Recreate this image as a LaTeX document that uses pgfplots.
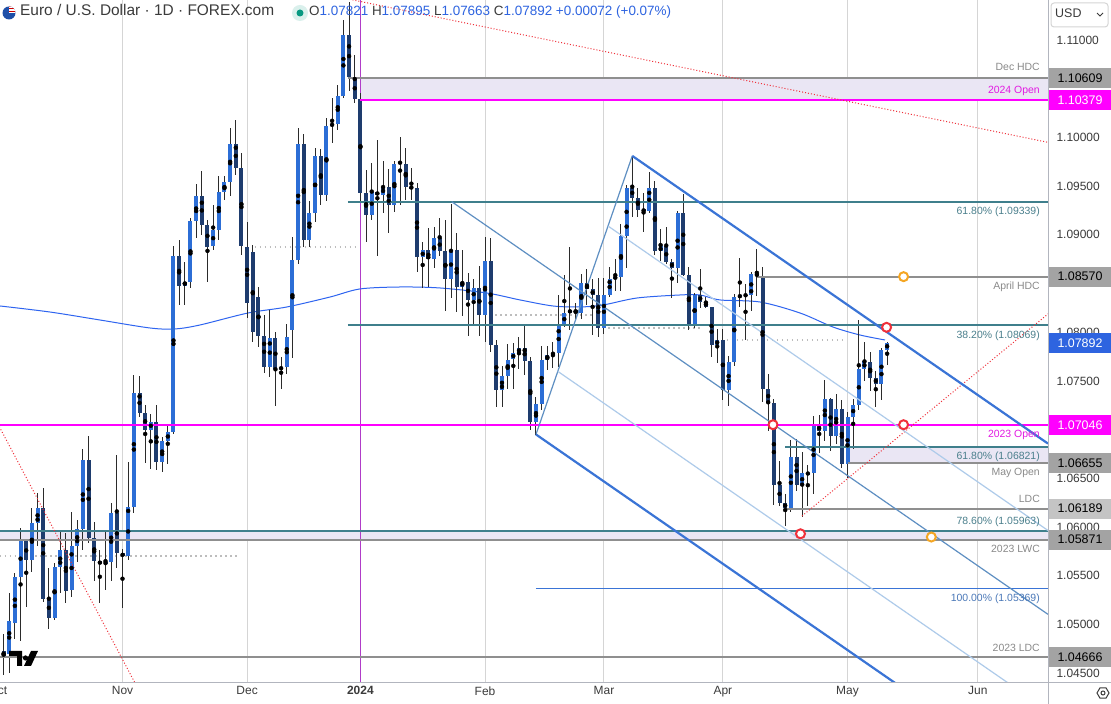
\documentclass[border=0pt]{standalone}
\usepackage{fontspec}
\setmainfont{Liberation Sans}
\usepackage{pgfplots}
\usepackage{pgfplotstable}
\pgfplotsset{compat=1.18}

\definecolor{bull}{HTML}{2C6ED6}
\definecolor{bear}{HTML}{1E3C6E}
\definecolor{wick}{HTML}{2B2B2B}
\definecolor{fibteal}{HTML}{3F7F8C}
\definecolor{lvlgray}{HTML}{8F8F8F}
\definecolor{lvlmag}{HTML}{FF00FF}
\definecolor{vmag}{HTML}{B03CC8}
\definecolor{lav}{HTML}{EAE6F4}
\definecolor{chblue}{HTML}{3A74D6}
\definecolor{pfsteel}{HTML}{5E8FC2}
\definecolor{pflight}{HTML}{AECBEA}
\definecolor{smablue}{HTML}{2E64F0}
\definecolor{redmk}{HTML}{F0303A}
\definecolor{orgmk}{HTML}{F5A623}
\definecolor{dotgray}{HTML}{BDBDBD}
\definecolor{gridc}{HTML}{D5D5D5}
\definecolor{axc}{HTML}{B2B5BE}
\definecolor{txtc}{HTML}{3B3B3B}
\definecolor{lblgray}{HTML}{8A8A8A}
\definecolor{lblmag}{HTML}{E21AE2}
\definecolor{lblteal}{HTML}{4A7F8C}
\definecolor{lblblue}{HTML}{4A78B8}
\definecolor{valblue}{HTML}{2E64E0}
\definecolor{boxgray}{HTML}{A3A3A3}
\definecolor{boxlight}{HTML}{C4C4C4}
\definecolor{tvgreen}{HTML}{089981}
\definecolor{flagblue}{HTML}{1F4FA8}

\pgfplotstableread{
k O H L C
-21 1.0473 1.0490 1.0448 1.0467
-20 1.0470 1.0532 1.0450 1.0503
-19 1.0502 1.0553 1.0485 1.0549
-18 1.0549 1.0599 1.0483 1.0586
-17 1.0586 1.0588 1.0518 1.0566
-16 1.0566 1.0620 1.0554 1.0604
-15 1.0604 1.0635 1.0580 1.0620
-14 1.0620 1.0640 1.0523 1.0526
-13 1.0527 1.0558 1.0495 1.0507
-12 1.0507 1.0563 1.0505 1.0559
-11 1.0559 1.0595 1.0532 1.0576
-10 1.0576 1.0594 1.0522 1.0534
-9 1.0535 1.0616 1.0528 1.0581
-8 1.0581 1.0607 1.0564 1.0598
-7 1.0598 1.0680 1.0576 1.0669
-6 1.0669 1.0694 1.0584 1.0589
-5 1.0589 1.0605 1.0545 1.0565
-4 1.0565 1.0576 1.0522 1.0562
-3 1.0562 1.0595 1.0535 1.0564
-2 1.0564 1.0625 1.0545 1.0614
-1 1.0614 1.0674 1.0558 1.0573
0 1.0573 1.0577 1.0517 1.0570
1 1.0570 1.0667 1.0566 1.0621
2 1.0621 1.0756 1.0614 1.0738
3 1.0738 1.0755 1.0713 1.0717
4 1.0717 1.0725 1.0666 1.0700
5 1.0700 1.0716 1.0660 1.0708
6 1.0708 1.0725 1.0659 1.0667
7 1.0667 1.0693 1.0657 1.0688
8 1.0688 1.0706 1.0665 1.0698
9 1.0698 1.0888 1.0695 1.0878
10 1.0878 1.0895 1.0828 1.0848
11 1.0848 1.0872 1.0828 1.0852
12 1.0852 1.0917 1.0845 1.0914
13 1.0914 1.0952 1.0897 1.0940
14 1.0940 1.0966 1.0900 1.0910
15 1.0910 1.0915 1.0852 1.0888
16 1.0888 1.0931 1.0884 1.0905
17 1.0905 1.0960 1.0895 1.0944
18 1.0944 1.0960 1.0936 1.0954
19 1.0954 1.1010 1.0940 1.0993
20 1.0993 1.1018 1.0961 1.0969
21 1.0969 1.0984 1.0879 1.0888
22 1.0888 1.0913 1.0815 1.0830
23 1.0882 1.0890 1.0790 1.0800
24 1.0836 1.0846 1.0785 1.0796
25 1.0796 1.0818 1.0758 1.0764
26 1.0764 1.0823 1.0754 1.0794
27 1.0794 1.0800 1.0724 1.0762
28 1.0762 1.0775 1.0742 1.0764
29 1.0764 1.0808 1.0757 1.0795
30 1.0802 1.0898 1.0774 1.0874
31 1.0874 1.1010 1.0870 1.0993
32 1.0993 1.1004 1.0888 1.0895
33 1.0895 1.0935 1.0888 1.0922
34 1.0922 1.0989 1.0913 1.0981
35 1.0981 1.0988 1.0931 1.0941
36 1.0941 1.1020 1.0935 1.1012
37 1.1012 1.1040 1.0994 1.1014
38 1.1014 1.1054 1.1008 1.1043
39 1.1043 1.1121 1.1040 1.1105
40 1.1105 1.1139 1.1048 1.1062
41 1.1062 1.1085 1.1035 1.1039
42 1.1039 1.1046 1.0934 1.0943
43 1.0943 1.0967 1.0893 1.0920
44 1.0920 1.0974 1.0915 1.0944
45 1.0944 1.0997 1.0878 1.0941
46 1.0941 1.0976 1.0922 1.0949
47 1.0949 1.0968 1.0902 1.0931
48 1.0931 1.0976 1.0924 1.0973
49 1.0973 1.1001 1.0931 1.0975
50 1.0973 1.0989 1.0936 1.0949
51 1.0949 1.0969 1.0936 1.0948
52 1.0948 1.0953 1.0862 1.0877
53 1.0877 1.0893 1.0845 1.0884
54 1.0884 1.0907 1.0847 1.0875
55 1.0875 1.0908 1.0866 1.0897
56 1.0897 1.0917 1.0878 1.0883
57 1.0883 1.0915 1.0822 1.0855
58 1.0855 1.0932 1.0835 1.0884
59 1.0884 1.0902 1.0821 1.0846
60 1.0846 1.0884 1.0817 1.0852
61 1.0852 1.0861 1.0796 1.0833
62 1.0833 1.0855 1.0807 1.0845
63 1.0845 1.0868 1.0796 1.0818
64 1.0818 1.0898 1.0790 1.0873
65 1.0873 1.0897 1.0780 1.0787
66 1.0787 1.0792 1.0723 1.0741
67 1.0741 1.0765 1.0723 1.0755
68 1.0755 1.0788 1.0742 1.0772
69 1.0772 1.0789 1.0742 1.0779
70 1.0779 1.0795 1.0762 1.0784
71 1.0784 1.0807 1.0756 1.0771
72 1.0771 1.0775 1.0700 1.0708
73 1.0708 1.0734 1.0695 1.0726
74 1.0726 1.0786 1.0720 1.0772
75 1.0772 1.0786 1.0761 1.0777
76 1.0777 1.0790 1.0763 1.0779
77 1.0779 1.0838 1.0764 1.0807
78 1.0807 1.0859 1.0805 1.0820
79 1.0820 1.0888 1.0802 1.0823
80 1.0823 1.0830 1.0812 1.0820
81 1.0820 1.0860 1.0814 1.0851
82 1.0851 1.0865 1.0828 1.0844
83 1.0844 1.0855 1.0797 1.0838
84 1.0838 1.0856 1.0795 1.0804
85 1.0804 1.0856 1.0798 1.0838
86 1.0838 1.0867 1.0836 1.0855
87 1.0855 1.0875 1.0842 1.0857
88 1.0857 1.0911 1.0842 1.0899
89 1.0899 1.0951 1.0866 1.0948
90 1.0948 1.0981 1.0918 1.0938
91 1.0938 1.0948 1.0918 1.0926
92 1.0926 1.0943 1.0903 1.0924
93 1.0924 1.0964 1.0922 1.0948
94 1.0948 1.0955 1.0879 1.0883
95 1.0883 1.0906 1.0873 1.0888
96 1.0888 1.0908 1.0870 1.0872
97 1.0872 1.0875 1.0835 1.0866
98 1.0866 1.0924 1.0850 1.0922
99 1.0922 1.0942 1.0858 1.0859
100 1.0859 1.0867 1.0802 1.0807
101 1.0807 1.0840 1.0804 1.0838
102 1.0838 1.0865 1.0825 1.0831
103 1.0831 1.0836 1.0825 1.0826
104 1.0826 1.0826 1.0775 1.0787
105 1.0787 1.0803 1.0768 1.0792
106 1.0792 1.0803 1.0730 1.0741
107 1.0741 1.0776 1.0724 1.0769
108 1.0769 1.0839 1.0765 1.0836
109 1.0836 1.0876 1.0826 1.0838
110 1.0838 1.0850 1.0792 1.0838
111 1.0838 1.0862 1.0822 1.0860
112 1.0860 1.0885 1.0837 1.0858
113 1.0858 1.0867 1.0728 1.0742
114 1.0742 1.0757 1.0699 1.0727
115 1.0727 1.0731 1.0623 1.0643
116 1.0643 1.0668 1.0622 1.0625
117 1.0625 1.0634 1.0601 1.0619
118 1.0619 1.0689 1.0615 1.0672
119 1.0672 1.0690 1.0637 1.0643
120 1.0643 1.0677 1.0610 1.0655
121 1.0655 1.0664 1.0622 1.0655
122 1.0655 1.0714 1.0634 1.0704
123 1.0704 1.0715 1.0676 1.0699
124 1.0699 1.0751 1.0688 1.0731
125 1.0731 1.0732 1.0678 1.0694
126 1.0694 1.0737 1.0685 1.0721
127 1.0721 1.0730 1.0661 1.0665
128 1.0665 1.0718 1.0650 1.0713
129 1.0713 1.0732 1.0680 1.0725
130 1.0725 1.0812 1.0720 1.0762
131 1.0762 1.0790 1.0750 1.0770
132 1.0770 1.0780 1.0740 1.0753
133 1.0753 1.0760 1.0723 1.0747
134 1.0747 1.0784 1.0730 1.0782
135 1.07821 1.07895 1.07663 1.07892
}\ohlc

\begin{document}
\begin{tikzpicture}[x=1bp,y=1bp]
\path[use as bounding box] (0,-21) rectangle (1111,683);
\fill[white] (0,-21) rectangle (1111,683);
\begin{axis}[
  at={(0,0)}, anchor=south west,
  width=1048bp, height=683bp, scale only axis,
  xmin=-21.63, xmax=163.4, ymin=1.043983, ymax=1.114107,
  axis x line*=bottom, axis y line*=right,
  axis line style={draw=none},
  xtick={0,22,42,64,85,106,128,151},
  xticklabels={Nov,Dec,\textbf{2024},Feb,Mar,Apr,May,Jun},
  ytick={1.045,1.050,1.055,1.060,1.065,1.075,1.080,1.090,1.095,1.100,1.110},
  yticklabel style={/pgf/number format/fixed, /pgf/number format/fixed zerofill, /pgf/number format/precision=5, /pgf/number format/assume math mode=true},
  yticklabel style={font=\fontsize{12}{14}\selectfont, text=txtc, anchor=west, xshift=5bp},
  xticklabel style={font=\fontsize{12}{14}\selectfont, text=txtc},
  major tick length=0pt,
  xmajorgrids,
  major grid style={draw=gridc, line width=1bp},
  clip=true,
]
% zones
\addplot[fill=lav, draw=none, forget plot] coordinates {(42,1.10379) (163.4,1.10379) (163.4,1.10609) (42,1.10609)} -- cycle;
\addplot[fill=lav, draw=none, forget plot] coordinates {(128,1.06655) (163.4,1.06655) (163.4,1.06821) (128,1.06821)} -- cycle;
\addplot[fill=lav, draw=none, forget plot] coordinates {(-21.63,1.05871) (163.4,1.05871) (163.4,1.05963) (-21.63,1.05963)} -- cycle;
% vertical 2024 line
\addplot[vmag, line width=1.2bp, forget plot] coordinates {(42,1.043983) (42,1.114107)};
% prior monthly closes (dotted)
\addplot[dotgray, line width=1.5bp, dash pattern=on 1.5bp off 3.5bp, forget plot] coordinates {(-21.63,1.05702) (20.74,1.05702)};
\addplot[dotgray, line width=1.5bp, dash pattern=on 1.5bp off 3.5bp, forget plot] coordinates {(23.39,1.08875) (41.05,1.08875)};
\addplot[dotgray, line width=1.5bp, dash pattern=on 1.5bp off 3.5bp, forget plot] coordinates {(65.77,1.08177) (83.07,1.08177)};
\addplot[dotgray, line width=1.5bp, dash pattern=on 1.5bp off 3.5bp, forget plot] coordinates {(85.72,1.08043) (101.96,1.08043)};
\addplot[dotgray, line width=1.5bp, dash pattern=on 1.5bp off 3.5bp, forget plot] coordinates {(106.72,1.07920) (127.2,1.07920)};
% 200 SMA
\addplot[smablue, line width=1bp, smooth, tension=0.5, forget plot] coordinates {
(-21.63,1.08269) (-12.80,1.08207) (-3.97,1.08125) (4.86,1.08043) (9.27,1.08033) (13.68,1.08074) (22.16,1.08197) (29.04,1.08259) (36.63,1.08361) (41.93,1.08444) (48.99,1.08464) (56.05,1.08454) (64.35,1.08402) (70.18,1.08331) (76.0,1.08269) (80.77,1.08259) (84.83,1.08279) (90.84,1.08351) (98.43,1.08382) (101.96,1.08382) (105.49,1.08331) (112.55,1.08310) (119.62,1.08197) (125.44,1.08053) (130.21,1.07971) (134.62,1.07920)};
% candles: wicks
\addplot[only marks, mark=none, forget plot, error bars/.cd, y dir=both, y explicit, error mark=none, error bar style={draw=wick, line width=1bp}]
  table[x=k, y expr={(\thisrow{H}+\thisrow{L})/2}, y error expr={(\thisrow{H}-\thisrow{L})/2}] {\ohlc};
% bull bodies
\addplot[only marks, mark=none, forget plot, restrict expr to domain={\thisrow{C}-\thisrow{O}}{0:1}, error bars/.cd, y dir=both, y explicit, error mark=none, error bar style={draw=bull, line width=4bp}]
  table[x=k, y expr={(\thisrow{O}+\thisrow{C})/2}, y error expr={max(abs(\thisrow{C}-\thisrow{O})/2,0.00005)}] {\ohlc};
% bear bodies
\addplot[only marks, mark=none, forget plot, restrict expr to domain={\thisrow{C}-\thisrow{O}}{-1:-0.000001}, error bars/.cd, y dir=both, y explicit, error mark=none, error bar style={draw=bear, line width=4bp}]
  table[x=k, y expr={(\thisrow{O}+\thisrow{C})/2}, y error expr={max(abs(\thisrow{C}-\thisrow{O})/2,0.00005)}] {\ohlc};
% horizontal levels
\addplot[lvlgray, line width=2bp, forget plot] coordinates {(39.81,1.10609) (163.4,1.10609)};
\addplot[lvlmag, line width=2bp, forget plot] coordinates {(42,1.10379) (163.4,1.10379)};
\addplot[fibteal, line width=2bp, forget plot] coordinates {(39.81,1.09339) (163.4,1.09339)};
\addplot[lvlgray, line width=2bp, forget plot] coordinates {(112,1.08570) (163.4,1.08570)};
\addplot[fibteal, line width=2bp, forget plot] coordinates {(39.81,1.08069) (163.4,1.08069)};
\addplot[lvlmag, line width=2bp, forget plot] coordinates {(-21.63,1.07046) (163.4,1.07046)};
\addplot[fibteal, line width=2bp, forget plot] coordinates {(117,1.06821) (163.4,1.06821)};
\addplot[lvlgray, line width=2bp, forget plot] coordinates {(128,1.06655) (163.4,1.06655)};
\addplot[lvlgray, line width=2bp, forget plot] coordinates {(117,1.06189) (163.4,1.06189)};
\addplot[fibteal, line width=2bp, forget plot] coordinates {(-21.63,1.05963) (163.4,1.05963)};
\addplot[lvlgray, line width=2bp, forget plot] coordinates {(-21.63,1.05871) (163.4,1.05871)};
\addplot[chblue, line width=1.5bp, forget plot] coordinates {(73,1.05369) (163.4,1.05369)};
\addplot[lvlgray, line width=2bp, forget plot] coordinates {(-21.63,1.04666) (163.4,1.04666)};
% red dotted trendlines
\addplot[redmk, line width=1bp, dash pattern=on 1bp off 2bp, forget plot] coordinates {(38,1.11443) (163.4,1.09949)};
\addplot[redmk, line width=1bp, dash pattern=on 1bp off 2bp, forget plot] coordinates {(-22,1.07057) (3,1.04311)};
\addplot[redmk, line width=1bp, dash pattern=on 1bp off 2bp, forget plot] coordinates {(119.97,1.06113) (163.4,1.08187)};
% pitchfork / channel
\addplot[pfsteel, line width=1.2bp, forget plot] coordinates {(73,1.0695) (90,1.0981)};
\addplot[pfsteel, line width=1.2bp, forget plot] coordinates {(58.12,1.09340) (163.4,1.05103)};
\addplot[pflight, line width=1.2bp, forget plot] coordinates {(85.72,1.0909) (163.4,1.05964)};
\addplot[pflight, line width=1.2bp, forget plot] coordinates {(76.85,1.07598) (163.4,1.04115)};
\addplot[chblue, line width=2.2bp, forget plot] coordinates {(90,1.0981) (163.4,1.06856)};
\addplot[chblue, line width=2.2bp, forget plot] coordinates {(73,1.0695) (163.4,1.03312)};
% markers
\addplot[only marks, mark=*, mark size=4.5bp, mark options={draw=redmk, fill=white, line width=2bp}, forget plot] coordinates {(114.85,1.0705) (134.9,1.0805) (137.9,1.0705) (119.7,1.0593)};
\addplot[only marks, mark=*, mark size=4.5bp, mark options={draw=orgmk, fill=white, line width=2bp}, forget plot] coordinates {(137.9,1.0857) (142.8,1.05897)};
\end{axis}

% separators
\draw[axc, line width=1bp] (1048,-21) -- (1048,683);
\draw[axc, line width=1bp] (0,0) -- (1111,0);
% Oct partial label (cut by the left edge as in the original)
\node[anchor=north, font=\fontsize{12}{14}\selectfont, text=txtc] at (-2.1,0) {Oct};

% right-hand level labels
\begin{scope}[every node/.style={anchor=mid east, font=\fontsize{10.5}{12}\selectfont, inner sep=0pt}]
\node[text=lblgray] at (1040,615) {Dec HDC};
\node[text=lblmag] at (1040,592) {2024 Open};
\node[text=lblteal] at (1040,471.5) {61.80\% (1.09339)};
\node[text=lblgray] at (1040,396.5) {April HDC};
\node[text=lblteal] at (1040,347.5) {38.20\% (1.08069)};
\node[text=lblmag] at (1040,248) {2023 Open};
\node[text=lblteal] at (1040,226.5) {61.80\% (1.06821)};
\node[text=lblgray] at (1040,209.7) {May Open};
\node[text=lblgray] at (1040,183) {LDC};
\node[text=lblteal] at (1040,161.3) {78.60\% (1.05963)};
\node[text=lblgray] at (1040,133) {2023 LWC};
\node[text=lblblue] at (1040,83.7) {100.00\% (1.05369)};
\node[text=lblgray] at (1040,33.7) {2023 LDC};
\end{scope}

% price boxes
\begin{scope}[every node/.style={minimum width=62bp, minimum height=20bp, inner sep=0pt, font=\fontsize{12.5}{14}\selectfont}]
\node[fill=boxgray, text=black] at (1080,604.9) {1.10609};
\node[fill=lvlmag, text=white] at (1080,582.5) {1.10379};
\node[fill=boxgray, text=black] at (1080,406.3) {1.08570};
\node[fill=valblue, text=white] at (1080,340.2) {1.07892};
\node[fill=lvlmag, text=white] at (1080,257.9) {1.07046};
\node[fill=boxgray, text=black] at (1080,219.8) {1.06655};
\node[fill=boxlight, text=black] at (1080,174.4) {1.06189};
\node[fill=boxgray, text=black] at (1080,143.4) {1.05871};
\node[fill=boxgray, text=black] at (1080,26.0) {1.04666};
\end{scope}

% USD box
\fill[white] (1050,655) rectangle (1110,682);
\draw[draw=gridc, rounded corners=3bp, line width=1bp] (1051,656) rectangle (1108,680);
\node[anchor=mid west, font=\fontsize{12.5}{14}\selectfont, text=txtc, inner sep=0pt] at (1055,668) {USD};
\draw[txtc, line width=0.9bp] (1097,670) -- (1100,667) -- (1103,670);
% settings icon
\draw[txtc, line width=1bp] (1103,-10) +(0:6) -- +(60:6) -- +(120:6) -- +(180:6) -- +(240:6) -- +(300:6) -- cycle;
\draw[txtc, line width=1bp] (1103,-10) circle (2);

% header
\begin{scope}
\clip (9,670) circle (6.5);
\fill[flagblue] (2,663) rectangle (16,677);
\fill[white] (9,670) rectangle (16,677);
\fill[red!80!black] (9,676) rectangle (16,677.2);
\fill[red!80!black] (9,673.5) rectangle (16,674.7);
\fill[red!80!black] (9,671) rectangle (16,672.2);
\end{scope}
\node[anchor=mid west, font=\fontsize{15.5}{18}\selectfont, text=txtc, inner sep=0pt] at (20,670) {Euro / U.S. Dollar · 1D · FOREX.com};
\fill[tvgreen!15] (300,670) circle (8);
\fill[tvgreen] (300,670) circle (3.5);
\node[anchor=mid west, font=\fontsize{13.5}{16}\selectfont, text=txtc, inner sep=0pt] at (309,670) {O\textcolor{valblue}{1.07821} H\textcolor{valblue}{1.07895} L\textcolor{valblue}{1.07663} C\textcolor{valblue}{1.07892} \textcolor{valblue}{+0.00072 (+0.07\%)}};

% logo
\fill[black] (9,32) -- (22,32) -- (22,17) -- (17,17) -- (17,27) -- (9,27) -- cycle;
\fill[black] (25.5,25) circle (2.6);
\fill[black] (31,32) -- (38,32) -- (31,17) -- (24,17) -- cycle;
\end{tikzpicture}
\end{document}
